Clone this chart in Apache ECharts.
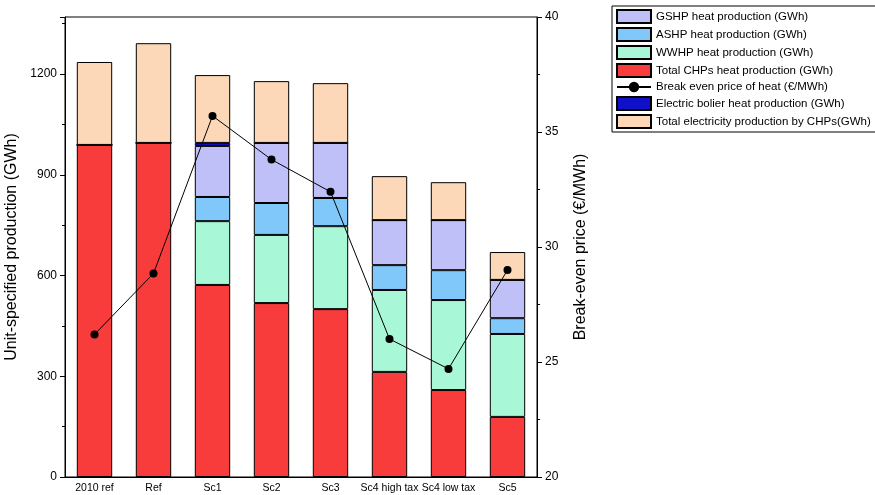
<!DOCTYPE html>
<html><head><meta charset="utf-8">
<script src="https://cdn.jsdelivr.net/npm/echarts@6/dist/echarts.min.js"></script>
<style>html,body{margin:0;padding:0;background:#fff}#c{width:875px;height:495px}</style>
</head><body><div id="c"></div>
<script>
var categories = ['2010 ref', 'Ref', 'Sc1', 'Sc2', 'Sc3', 'Sc4 high tax', 'Sc4 low tax', 'Sc5'];
var chpHeat = [989, 995, 572, 518, 500, 313, 259, 179];
var wwhpHeat = [0, 0, 190, 203, 247, 244, 268, 247];
var ashpHeat = [0, 0, 72, 95, 84, 74, 89, 47];
var gshpHeat = [0, 0, 152, 179, 164, 134, 149, 114];
var boilerHeat = [0, 0, 9, 0, 0, 0, 0, 0];
var chpElec = [247, 297, 202, 184, 178, 131, 113, 83];
var breakEven = [26.2, 28.85, 35.7, 33.8, 32.4, 26.0, 24.7, 29.0];

var chart = echarts.init(document.getElementById('c'));
var font = 'Liberation Sans, Arial, sans-serif';
function bar(name, data, color) {
    return {
        name: name, type: 'bar', stack: 'p', data: data, barWidth: '60%',
        itemStyle: { color: color, borderColor: '#000', borderWidth: 1 }
    };
}
chart.setOption({
    textStyle: { fontFamily: font },
    animation: false,
    grid: { left: 65, right: 338, top: 17, bottom: 18, outerBoundsMode: 'none', containLabel: false,
        show: true, borderColor: '#000', borderWidth: 1 },
    legend: {
        orient: 'vertical', left: 612, top: 6, itemWidth: 34, itemHeight: 13, itemGap: 3,
        borderColor: '#000', borderWidth: 1, padding: [3, 8, 3, 4],
        textStyle: { fontSize: 11.5, color: '#000', fontFamily: font },
        data: [
            { name: 'GSHP heat production (GWh)', icon: 'rect' },
            { name: 'ASHP heat production (GWh)', icon: 'rect' },
            { name: 'WWHP heat production (GWh)', icon: 'rect' },
            { name: 'Total CHPs heat production (GWh)', icon: 'rect' },
            'Break even price of heat (€/MWh)',
            { name: 'Electric bolier heat production (GWh)', icon: 'rect' },
            { name: 'Total electricity production by CHPs(GWh)', icon: 'rect' }]
    },
    xAxis: {
        type: 'category', data: categories,
        axisLine: { lineStyle: { color: '#000' } },
        axisTick: { show: false },
        axisLabel: { color: '#000', fontSize: 10.5, margin: 6, interval: 0, fontFamily: font }
    },
    yAxis: [{
        type: 'value', min: 0, max: 1370, interval: 300,
        name: 'Unit-specified production (GWh)', nameLocation: 'middle', nameGap: 37,
        nameTextStyle: { fontSize: 16, color: '#000', fontFamily: font },
        axisLine: { show: true, lineStyle: { color: '#000' } },
        axisTick: { show: true, length: 5 },
        minorTick: { show: true, splitNumber: 2, length: 3 },
        axisLabel: { color: '#000', fontSize: 12, fontFamily: font, showMaxLabel: false, formatter: function (v) { return String(v); } },
        splitLine: { show: false }
    }, {
        type: 'value', min: 20, max: 40, interval: 5,
        name: 'Break-even price (€/MWh)', nameLocation: 'middle', nameGap: 36,
        nameTextStyle: { fontSize: 16, color: '#000', fontFamily: font },
        axisLine: { show: true, lineStyle: { color: '#000' } },
        axisTick: { show: true, length: 5 },
        minorTick: { show: true, splitNumber: 2, length: 3 },
        axisLabel: { color: '#000', fontSize: 12, fontFamily: font },
        splitLine: { show: false }
    }],
    series: [
        bar('Total CHPs heat production (GWh)', chpHeat, '#f83c3c'),
        bar('WWHP heat production (GWh)', wwhpHeat, '#a8f8d8'),
        bar('ASHP heat production (GWh)', ashpHeat, '#80c8fa'),
        bar('GSHP heat production (GWh)', gshpHeat, '#c0c0f8'),
        bar('Electric bolier heat production (GWh)', boilerHeat, '#1010c8'),
        bar('Total electricity production by CHPs(GWh)', chpElec, '#fcd8b8'),
        {
            name: 'Break even price of heat (€/MWh)', type: 'line', yAxisIndex: 1, data: breakEven,
            symbol: 'circle', symbolSize: 8,
            lineStyle: { color: '#000', width: 1 }, itemStyle: { color: '#000' }
        }
    ]
});
</script></body></html>
